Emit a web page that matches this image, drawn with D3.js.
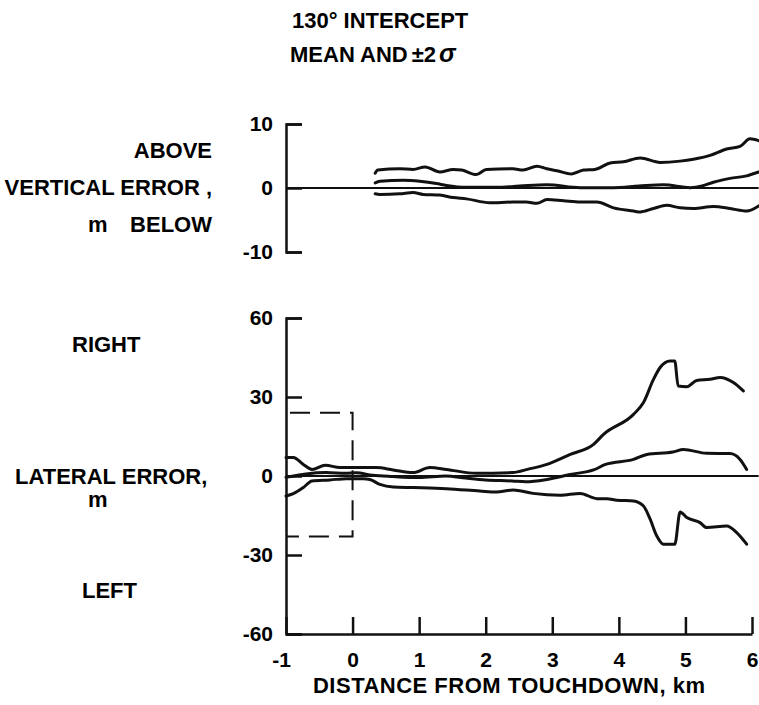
<!DOCTYPE html>
<html><head><meta charset="utf-8">
<script src="https://cdn.jsdelivr.net/npm/d3@7"></script>
<style>
html,body{margin:0;padding:0;background:#fff;}
svg text{font-family:"Liberation Sans",Arial,sans-serif;fill:#000;font-weight:bold;}
</style></head><body>
<svg id="chart" width="759" height="705"></svg>
<script>
// ---------- data ----------
const xTicks = [-1, 0, 1, 2, 3, 4, 5, 6];
const vertTicks = [10, 0, -10];
const latTicks = [60, 30, 0, -30, -60];

// vertical error, m  ([distance km, value])
const vertUpper = [[0.34,2.3],[0.38,2.8],[0.71,3.0],[0.91,2.9],[1.09,3.3],[1.31,2.5],[1.51,2.9],[1.64,2.8],[1.86,2.1],[2.01,2.9],[2.41,3.0],[2.56,2.8],[2.77,3.4],[2.92,3.0],[3.07,2.7],[3.29,2.2],[3.47,2.8],[3.64,2.9],[3.87,3.9],[4.07,4.1],[4.32,4.7],[4.62,4.0],[4.92,4.2],[5.12,4.5],[5.37,5.1],[5.62,6.1],[5.82,6.5],[5.97,7.7],[6.1,7.4]];
const vertMean = [[0.34,0.8],[0.41,1.05],[0.76,1.2],[1.01,1.05],[1.26,0.7],[1.41,0.4],[1.71,0.1],[2.16,0.1],[2.51,0.3],[2.92,0.5],[3.42,0.05],[3.92,0.05],[4.3,0.3],[4.67,0.5],[5.07,0.05],[5.25,0.3],[5.42,0.9],[5.67,1.5],[5.92,1.9],[6.1,2.5]];
const vertLower = [[0.34,-0.9],[0.41,-1.0],[0.71,-0.9],[0.91,-0.7],[1.06,-1.0],[1.31,-1.1],[1.51,-1.5],[1.71,-1.7],[2.06,-2.3],[2.41,-2.2],[2.61,-2.2],[2.77,-2.4],[2.92,-1.8],[3.17,-2.0],[3.42,-2.2],[3.67,-2.2],[3.92,-3.1],[4.22,-3.6],[4.32,-3.75],[4.52,-3.2],[4.72,-2.7],[4.92,-3.1],[5.12,-3.2],[5.42,-2.9],[5.67,-3.2],[5.92,-3.6],[6.1,-2.8]];

// lateral error, m
const latUpper = [[-1.0,7.0],[-0.89,7.0],[-0.74,4.4],[-0.61,2.5],[-0.41,4.1],[-0.19,3.2],[0.06,3.2],[0.36,3.2],[0.61,2.3],[0.91,1.3],[1.16,3.2],[1.41,2.5],[1.86,1.0],[2.41,1.3],[2.64,2.6],[2.92,4.4],[3.27,8.2],[3.62,12.0],[3.77,15.8],[4.22,23.4],[4.37,27.9],[4.52,36.7],[4.62,41.2],[4.77,43.7],[4.84,43.7],[4.89,34.2],[5.02,33.9],[5.17,36.3],[5.37,36.7],[5.52,37.4],[5.72,35.5],[5.87,32.3]];
const latMean = [[-1.0,-0.5],[-0.7,0.8],[-0.4,1.3],[-0.1,1.0],[0.05,1.2],[0.3,0.3],[0.6,-0.2],[1.0,-0.6],[1.4,0.0],[1.7,-0.8],[2.0,-1.5],[2.4,-1.9],[2.6,-2.2],[2.92,-1.3],[3.27,0.6],[3.62,2.3],[3.8,4.4],[4.22,6.3],[4.42,8.2],[4.81,9.1],[4.97,10.1],[5.32,8.6],[5.67,8.5],[5.82,6.3],[5.92,2.5]];
const latLower = [[-1.0,-7.6],[-0.89,-6.7],[-0.74,-4.4],[-0.61,-1.9],[-0.34,-1.5],[-0.09,-1.0],[0.16,-1.0],[0.26,-1.3],[0.41,-3.2],[0.61,-4.2],[0.91,-4.4],[1.41,-4.8],[1.91,-5.7],[2.16,-6.1],[2.41,-5.3],[2.71,-6.6],[3.12,-7.3],[3.42,-6.6],[3.67,-8.6],[3.82,-8.6],[3.97,-9.2],[4.22,-9.5],[4.37,-11.4],[4.47,-16.4],[4.57,-22.8],[4.67,-25.9],[4.84,-25.9],[4.92,-13.7],[5.02,-15.8],[5.22,-17.7],[5.32,-19.6],[5.62,-19.0],[5.77,-21.5],[5.92,-25.9]];

// dashed reference box
const boxDist = [-1, 0];
const boxLat = [24, -23];
const zeroLineEnd = 6.1;

// ---------- scales ----------
const svg = d3.select("#chart");
const x = d3.scaleLinear().domain([-1, 6]).range([286, 752]);
const yV = d3.scaleLinear().domain([-10, 10]).range([252, 124]);
const yL = d3.scaleLinear().domain([-60, 60]).range([634, 318]);
const ink = "#111";

function styleAxis(g) {
  g.selectAll("path.domain").attr("stroke", ink).attr("stroke-width", 2.5).attr("fill", "none");
  g.selectAll(".tick line").attr("stroke", ink).attr("stroke-width", 2.5);
  g.selectAll(".tick text").attr("font-size", 21).attr("fill", "#000").attr("font-weight", "bold")
    .style("font-family", '"Liberation Sans",Arial,sans-serif');
}

// ---------- top panel (vertical) ----------
const gVA = svg.append("g").attr("transform", `translate(${x(-1)},0)`)
  .call(d3.axisLeft(yV).tickValues(vertTicks).tickSizeInner(-16).tickSizeOuter(-16)
    .tickPadding(13).tickFormat(d => String(d)));
styleAxis(gVA);

svg.append("line").attr("x1", x(-1)).attr("x2", x(zeroLineEnd))
  .attr("y1", yV(0)).attr("y2", yV(0)).attr("stroke", ink).attr("stroke-width", 2);

const lineV = d3.line().x(d => x(d[0])).y(d => yV(d[1])).curve(d3.curveMonotoneX);
[vertUpper, vertMean, vertLower].forEach(s => {
  svg.append("path").datum(s).attr("d", lineV).attr("fill", "none")
    .attr("stroke", ink).attr("stroke-width", 3).attr("stroke-linejoin", "round").attr("stroke-linecap", "round");
});

// ---------- bottom panel (lateral) ----------
const gLA = svg.append("g").attr("transform", `translate(${x(-1)},0)`)
  .call(d3.axisLeft(yL).tickValues(latTicks).tickSizeInner(-16).tickSizeOuter(-16)
    .tickPadding(13).tickFormat(d => String(d)));
styleAxis(gLA);

const gX = svg.append("g").attr("transform", `translate(0,${yL(-60)})`)
  .call(d3.axisBottom(x).tickValues(xTicks).tickSizeInner(-17).tickSizeOuter(0)
    .tickPadding(18).tickFormat(d => String(d)));
styleAxis(gX);
gX.selectAll(".tick text").filter(d => d === -1).attr("dx", -5);

svg.append("line").attr("x1", x(-1)).attr("x2", x(zeroLineEnd))
  .attr("y1", yL(0)).attr("y2", yL(0)).attr("stroke", ink).attr("stroke-width", 2);

// dashed box
const boxPts = [[boxDist[0], boxLat[0]], [boxDist[1], boxLat[0]], [boxDist[1], boxLat[1]], [boxDist[0], boxLat[1]]];
svg.append("path").datum(boxPts)
  .attr("d", d3.line().x(d => x(d[0])).y(d => yL(d[1])))
  .attr("fill", "none").attr("stroke", ink).attr("stroke-width", 2)
  .attr("stroke-dasharray", "20,10").attr("stroke-dashoffset", -4);

const lineL = d3.line().x(d => x(d[0])).y(d => yL(d[1])).curve(d3.curveMonotoneX);
[latUpper, latMean, latLower].forEach(s => {
  svg.append("path").datum(s).attr("d", lineL).attr("fill", "none")
    .attr("stroke", ink).attr("stroke-width", 3).attr("stroke-linejoin", "round").attr("stroke-linecap", "round");
});

// ---------- texts ----------
function label(txt, xx, yy, anchor, size) {
  return svg.append("text").attr("x", xx).attr("y", yy).attr("text-anchor", anchor || "start")
    .attr("font-size", size || 22).text(txt);
}
label("130° INTERCEPT", 292, 28, "start", 22);
const t2 = svg.append("text").attr("x", 290).attr("y", 62).attr("font-size", 22);
t2.append("tspan").text("MEAN AND");
t2.append("tspan").attr("dx", 4).text("±2");
t2.append("tspan").attr("dx", 3).attr("font-style", "italic").attr("font-size", 25).text("σ");

label("ABOVE", 212, 158, "end");
label("VERTICAL ERROR ,", 212, 195, "end");
label("m", 88, 232, "start");
label("BELOW", 212, 232, "end");

label("RIGHT", 72, 352, "start");
label("LATERAL ERROR,", 15, 484, "start");
label("m", 88, 507, "start");
label("LEFT", 82, 598, "start");

label("DISTANCE FROM TOUCHDOWN, km", 313, 693, "start", 22)
  .attr("textLength", 392).attr("lengthAdjust", "spacing");
</script>
</body></html>
